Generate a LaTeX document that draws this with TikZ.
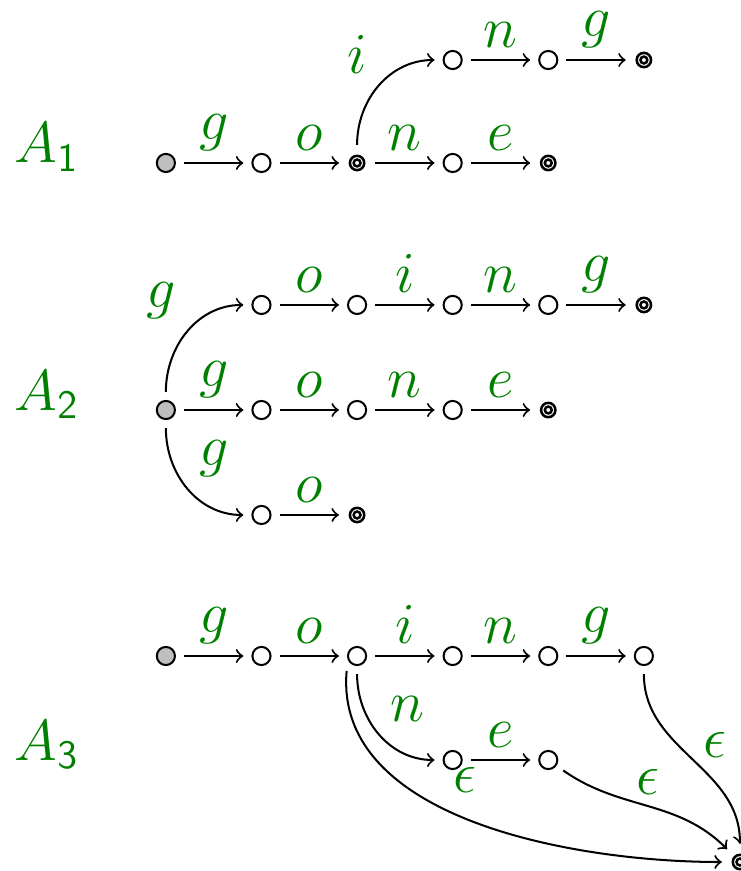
\documentclass[tikz,border=0pt]{standalone}
\usepackage{amsmath}
\definecolor{lblgreen}{rgb}{0,0.5,0}
\tikzset{
  state/.style={circle,draw,semithick,minimum size=0.19cm,inner sep=0pt,outer sep=0.095cm},
  startstate/.style={state,fill=black!25},
  acceptstate/.style={circle,draw,line width=0.75pt,minimum size=0.15cm,inner sep=0pt,outer sep=0.115cm,
    path picture={\draw[line width=0.75pt] (path picture bounding box.center) circle (0.036cm);}},
  trans/.style={->,semithick},
  lbl/.style={text=lblgreen,font=\LARGE,inner sep=3.3pt},
  autname/.style={text=lblgreen,font=\LARGE,anchor=base}
}
\begin{document}
\begin{tikzpicture}
    \useasboundingbox (0,0) rectangle (7.741,9.111);
    % A1
    \node[autname] (nameA) at (0.49,7.406) {$A_{\mathsf{1}}$};
    \node[startstate] (p0) at (1.735,7.406) {};
    \node[state] (p1) at (2.735,7.406) {};
    \node[acceptstate] (p2) at (3.735,7.406) {};
    \node[state] (p3) at (4.735,7.406) {};
    \node[acceptstate] (p4) at (5.735,7.406) {};
    \node[state] (p5) at (4.735,8.483) {};
    \node[state] (p6) at (5.735,8.483) {};
    \node[acceptstate] (p7) at (6.735,8.483) {};
    \draw[trans] (p0) -- node[lbl,above] {$g$} (p1);
    \draw[trans] (p1) -- node[lbl,above] {$o$} (p2);
    \draw[trans] (p2) -- node[lbl,above] {$n$} (p3);
    \draw[trans] (p3) -- node[lbl,above] {$e$} (p4);
    \draw[trans] (p2) to[out=90,in=180] node[lbl,above left,pos=0.5] {$i$} (p5);
    \draw[trans] (p5) -- node[lbl,above] {$n$} (p6);
    \draw[trans] (p6) -- node[lbl,above] {$g$} (p7);
    % A2
    \node[autname] (nameB) at (0.49,4.822) {$A_{\mathsf{2}}$};
    \node[startstate] (q0) at (1.735,4.822) {};
    \node[state] (q1) at (2.735,5.921) {};
    \node[state] (q2) at (3.735,5.921) {};
    \node[state] (q3) at (4.735,5.921) {};
    \node[state] (q4) at (5.735,5.921) {};
    \node[acceptstate] (q5) at (6.735,5.921) {};
    \node[state] (q6) at (2.735,4.822) {};
    \node[state] (q7) at (3.735,4.822) {};
    \node[state] (q8) at (4.735,4.822) {};
    \node[acceptstate] (q9) at (5.735,4.822) {};
    \node[state] (q10) at (2.735,3.724) {};
    \node[acceptstate] (q11) at (3.735,3.724) {};
    \draw[trans] (q0) to[out=90,in=180] node[lbl,above left] {$g$} (q1);
    \draw[trans] (q1) -- node[lbl,above] {$o$} (q2);
    \draw[trans] (q2) -- node[lbl,above] {$i$} (q3);
    \draw[trans] (q3) -- node[lbl,above] {$n$} (q4);
    \draw[trans] (q4) -- node[lbl,above] {$g$} (q5);
    \draw[trans] (q0) -- node[lbl,above] {$g$} (q6);
    \draw[trans] (q6) -- node[lbl,above] {$o$} (q7);
    \draw[trans] (q7) -- node[lbl,above] {$n$} (q8);
    \draw[trans] (q8) -- node[lbl,above] {$e$} (q9);
    \draw[trans] (q0) to[out=-90,in=180] node[lbl,above right] {$g$} (q10);
    \draw[trans] (q10) -- node[lbl,above] {$o$} (q11);
    % A3
    \node[autname] (nameC) at (0.49,1.161) {$A_{\mathsf{3}}$};
    \node[startstate] (r0) at (1.735,2.249) {};
    \node[state] (r1) at (2.735,2.249) {};
    \node[state] (r2) at (3.735,2.249) {};
    \node[state] (r3) at (4.735,2.249) {};
    \node[state] (r4) at (5.735,2.249) {};
    \node[state] (r5) at (6.735,2.249) {};
    \node[state] (r6) at (4.735,1.161) {};
    \node[state] (r7) at (5.735,1.161) {};
    \node[acceptstate] (r8) at (7.74,0.094) {};
    \draw[trans] (r0) -- node[lbl,above] {$g$} (r1);
    \draw[trans] (r1) -- node[lbl,above] {$o$} (r2);
    \draw[trans] (r2) -- node[lbl,above] {$i$} (r3);
    \draw[trans] (r3) -- node[lbl,above] {$n$} (r4);
    \draw[trans] (r4) -- node[lbl,above] {$g$} (r5);
    \draw[trans] (r2) to[out=-90,in=180] node[lbl,above right] {$n$} (r6);
    \draw[trans] (r6) -- node[lbl,above] {$e$} (r7);
    \draw[trans] (r2.-125) to[out=-95,in=180,looseness=0.9] node[lbl,pos=0.48,above=4pt] {$\epsilon$} (r8);
    \draw[trans] (r7) to[out=-35,in=135] node[lbl,above] {$\epsilon$} (r8);
    \draw[trans] (r5) to[out=-90,in=90] node[lbl,pos=0.4,right=4pt] {$\epsilon$} (r8);
\end{tikzpicture}
\end{document}
